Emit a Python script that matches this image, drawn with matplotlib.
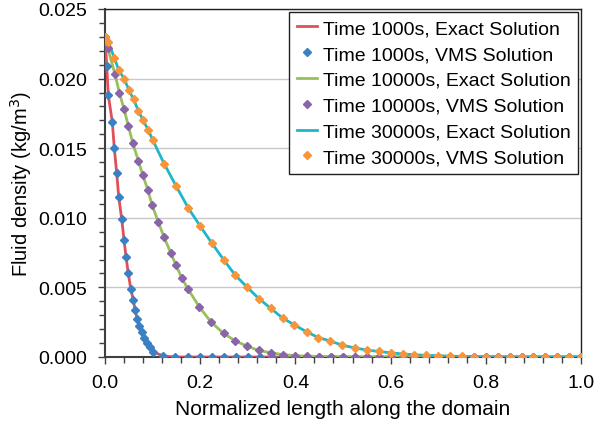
import matplotlib
matplotlib.use("Agg")
import matplotlib.pyplot as plt
from matplotlib.ticker import MultipleLocator, FormatStrFormatter

plt.rcParams['font.family'] = ['Liberation Sans', 'DejaVu Sans']

# values
x_1000 = [0.0, 0.0036, 0.0069, 0.0153, 0.0195, 0.0246, 0.0288, 0.0351, 0.040, 0.0441,
          0.049, 0.054, 0.0595, 0.063, 0.0679, 0.0721, 0.0771, 0.0819, 0.0876, 0.0945,
          0.1015, 0.1225, 0.147, 0.175, 0.20, 0.225, 0.25, 0.275, 0.30, 0.325, 0.35,
          0.375, 0.40, 0.425, 0.45, 0.475, 0.50, 0.525, 0.55, 0.575, 0.60, 0.625, 0.65,
          0.675, 0.70, 0.725, 0.75, 0.775, 0.80, 0.825, 0.85, 0.875, 0.90, 0.925, 0.95,
          0.975, 1.0]
y_1000 = [0.0230, 0.0209, 0.0188, 0.0169, 0.0150, 0.0132, 0.0115, 0.0099, 0.0084, 0.0072,
          0.0060, 0.0049, 0.0041, 0.0034, 0.0027, 0.0022, 0.00176, 0.0014, 0.0010, 0.0007,
          0.00036, 0.00007, 0.0, 0.0, 0.0, 0.0, 0.0, 0.0, 0.0, 0.0, 0.0,
          0.0, 0.0, 0.0, 0.0, 0.0, 0.0, 0.0, 0.0, 0.0, 0.0, 0.0, 0.0,
          0.0, 0.0, 0.0, 0.0, 0.0, 0.0, 0.0, 0.0, 0.0, 0.0, 0.0, 0.0,
          0.0, 0.0]

x_10000 = [0.0, 0.0057, 0.021, 0.030, 0.040, 0.049, 0.058, 0.070, 0.079, 0.090, 0.099,
           0.112, 0.124, 0.138, 0.149, 0.161, 0.174, 0.198, 0.223, 0.249, 0.274, 0.299,
           0.323, 0.349, 0.374, 0.399, 0.424, 0.45, 0.475, 0.50, 0.525, 0.55, 0.575,
           0.60, 0.625, 0.65, 0.675, 0.70, 0.725, 0.75, 0.775, 0.80, 0.825, 0.85, 0.875,
           0.90, 0.925, 0.95, 0.975, 1.0]
y_10000 = [0.0230, 0.0222, 0.0203, 0.0190, 0.0178, 0.0166, 0.0154, 0.0141, 0.0131, 0.0120, 0.0109,
           0.0097, 0.0086, 0.0075, 0.0066, 0.0057, 0.0049, 0.0036, 0.0025, 0.0017, 0.00115, 0.00077,
           0.00047, 0.0003, 0.00017, 0.0001, 0.00006, 0.00003, 0.00002, 0.00001, 0.0, 0.0, 0.0,
           0.0, 0.0, 0.0, 0.0, 0.0, 0.0, 0.0, 0.0, 0.0, 0.0, 0.0, 0.0,
           0.0, 0.0, 0.0, 0.0, 0.0]

x_30000 = [0.0, 0.007, 0.0195, 0.029, 0.040, 0.050, 0.060, 0.070, 0.080, 0.091, 0.100,
           0.124, 0.149, 0.175, 0.200, 0.224, 0.249, 0.273, 0.299, 0.323, 0.348, 0.373,
           0.398, 0.424, 0.448, 0.473, 0.498, 0.525, 0.55, 0.575, 0.60, 0.625, 0.65,
           0.675, 0.70, 0.725, 0.75, 0.775, 0.80, 0.825, 0.85, 0.875, 0.90, 0.925, 0.95,
           0.975, 1.0]
y_30000 = [0.0230, 0.0226, 0.0215, 0.0206, 0.0200, 0.0192, 0.0185, 0.0177, 0.0170, 0.0163, 0.0156,
           0.0139, 0.0123, 0.0107, 0.0094, 0.0082, 0.0070, 0.0059, 0.0050, 0.0042, 0.0035, 0.0028,
           0.0023, 0.0018, 0.0014, 0.00115, 0.00085, 0.00065, 0.0005, 0.0004, 0.0003, 0.00022, 0.00016,
           0.00012, 0.00009, 0.00006, 0.00004, 0.00003, 0.00002, 0.00001, 0.0, 0.0, 0.0, 0.0, 0.0,
           0.0, 0.0]

fig = plt.figure(figsize=(5.95, 4.27), dpi=100)
ax = fig.add_axes([0.1765, 0.1616, 0.8, 0.815])

ms = 4.5
ax.plot(x_1000, y_1000, color='#e0505a', lw=2, label='Time 1000s, Exact Solution', zorder=3)
ax.plot(x_1000, y_1000, 'D', color='#3c80c4', ms=ms, ls='none', label='Time 1000s, VMS Solution', zorder=4)
ax.plot(x_10000, y_10000, color='#98c05a', lw=2, label='Time 10000s, Exact Solution', zorder=3)
ax.plot(x_10000, y_10000, 'D', color='#8a64a8', ms=ms, ls='none', label='Time 10000s, VMS Solution', zorder=4)
ax.plot(x_30000, y_30000, color='#1fb6c8', lw=2, label='Time 30000s, Exact Solution', zorder=3)
ax.plot(x_30000, y_30000, 'D', color='#f7953a', ms=ms, ls='none', label='Time 30000s, VMS Solution', zorder=4)

ax.set_xlim(0, 1.0)
ax.set_ylim(0, 0.025)
ax.xaxis.set_major_locator(MultipleLocator(0.2))
ax.xaxis.set_minor_locator(MultipleLocator(0.04))
ax.yaxis.set_major_locator(MultipleLocator(0.005))
ax.yaxis.set_minor_locator(MultipleLocator(0.001))
ax.xaxis.set_major_formatter(FormatStrFormatter('%.1f'))
ax.yaxis.set_major_formatter(FormatStrFormatter('%.3f'))
ax.tick_params(which='both', direction='out', colors='#404040', labelcolor='black', labelsize=14)
ax.tick_params(which='major', length=5, width=1)
ax.tick_params(which='minor', length=4, width=1)
ax.tick_params(axis='x', which='major', pad=7)
ax.tick_params(axis='y', which='major', pad=8)
ax.yaxis.grid(True, color='#c8c8c8', lw=1)
ax.set_axisbelow(True)

for s in ['left', 'bottom']:
    ax.spines[s].set_color('#404040')
    ax.spines[s].set_linewidth(1.5)
for s in ['top', 'right']:
    ax.spines[s].set_color('#202020')
    ax.spines[s].set_linewidth(1.0)

ax.set_xlabel('Normalized length along the domain', fontsize=15, labelpad=6)
ax.set_ylabel('Fluid density (kg/m$^3$)', fontsize=14.5, labelpad=3)

leg = ax.legend(loc='upper right', fontsize=14, frameon=True, fancybox=False,
                edgecolor='#202020', handlelength=1.05, handletextpad=0.28,
                labelspacing=0.42, borderpad=0.4, borderaxespad=0.15, framealpha=1)
leg.get_frame().set_linewidth(1.0)

fig.savefig('out.png', dpi=100)
